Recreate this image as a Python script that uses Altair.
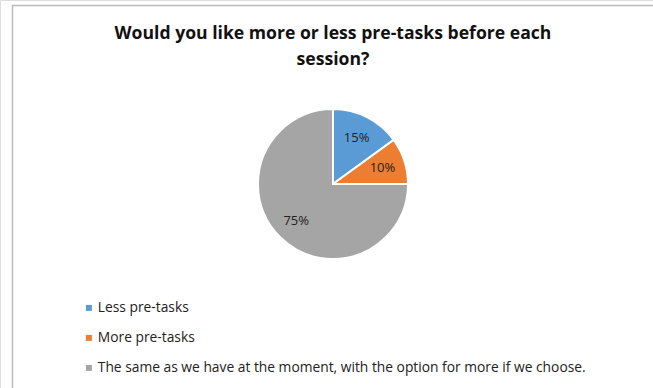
import altair as alt
import pandas as pd

categories = ["Less pre-tasks", "More pre-tasks",
              "The same as we have at the moment, with the option for more if we choose."]
values = [15, 10, 75]
labels = ["15%", "10%", "75%"]
colors = ["#5B9BD5", "#ED7D31", "#A5A5A5"]
title_lines = ["Would you like more or less pre-tasks before each", "session?"]

df = pd.DataFrame({"category": categories, "value": values, "label": labels,
                   "order": [0, 1, 2]})

FONT = "Open Sans"
color = alt.Color("category:N", scale=alt.Scale(domain=categories, range=colors),
                  sort=categories,
                  legend=alt.Legend(title=None, orient="none", legendX=82, legendY=301,
                                    symbolType="square", symbolSize=36, symbolStrokeWidth=0,
                                    labelFont=FONT, labelFontSize=13.8, labelColor="#222222",
                                    rowPadding=15, labelLimit=600, direction="vertical",
                                    symbolOffset=0, labelOffset=2))

base = alt.Chart(df).encode(
    theta=alt.Theta("value:Q", stack=True),
    order=alt.Order("order:Q"),
)

pie = base.mark_arc(outerRadius=75, stroke="white", strokeWidth=2).encode(
    color=color, x=alt.value(333), y=alt.value(184))

text = base.mark_text(font=FONT, fontSize=13, color="#222222").encode(
    text="label:N", radius=alt.value(52), x=alt.value(333), y=alt.value(184))

one = pd.DataFrame({"a": [0]})
title1 = alt.Chart(one).mark_text(font=FONT, fontSize=17.6, fontWeight="bold",
                                  color="#111111", baseline="middle",
                                  text=title_lines[0]).encode(
    x=alt.value(333), y=alt.value(34))
title2 = alt.Chart(one).mark_text(font=FONT, fontSize=17.6, fontWeight="bold",
                                  color="#111111", baseline="middle",
                                  text=title_lines[1]).encode(
    x=alt.value(333), y=alt.value(60))

border = alt.Chart(one).mark_rule(color="#BBBBBB", strokeWidth=1.5).encode(
    x=alt.value(12), x2=alt.value(660), y=alt.value(5.5))
border2 = alt.Chart(one).mark_rule(color="#BBBBBB", strokeWidth=1.5).encode(
    x=alt.value(12.5), y=alt.value(5), y2=alt.value(400))

chart = alt.layer(border, border2, pie, text, title1, title2).properties(
    width=653, height=388, padding=0, autosize="none"
).configure_view(stroke=None).configure(background="white")

chart.save("out.html", embed_options={"renderer": "svg", "actions": False})
